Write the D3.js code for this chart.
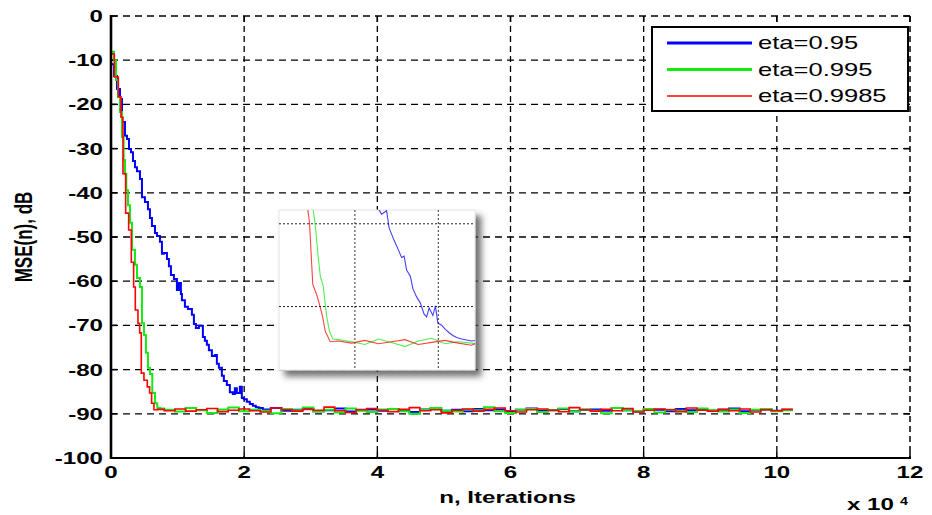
<!DOCTYPE html>
<html>
<head>
<meta charset="utf-8">
<script src="https://d3js.org/d3.v7.min.js"></script>
<style>
  body { margin: 0; background: #fff; }
  svg { display: block; }
  text { font-family: "Liberation Sans", Arial, sans-serif; fill: #000; }
</style>
</head>
<body>
<div id="chart"></div>
<script>
// axis ticks
var xTicks = [0, 2, 4, 6, 8, 10, 12];
var yTicks = [0, -10, -20, -30, -40, -50, -60, -70, -80, -90, -100];
var seriesNames = ["eta=0.95", "eta=0.995", "eta=0.9985"];
var seriesColors = ["#0000ff", "#14ea14", "#ff0000"];

// transient part of the learning curves: [n (x10^4), MSE dB]
var blueHead = [[0.0,-8.5],[0.045,-10.9],[0.09,-13.6],[0.135,-16.5],[0.165,-18.8],[0.21,-24],[0.24,-27.1],
  [0.27,-27.8],[0.30,-30.1],[0.33,-30.8],[0.36,-32.8],[0.39,-34.2],[0.435,-35.1],[0.465,-36.9],[0.51,-41],
  [0.555,-42.1],[0.585,-43.7],[0.615,-45.7],[0.66,-47.5],[0.69,-49.1],[0.735,-49.8],[0.765,-51.1],[0.795,-53.8],
  [0.84,-53.6],[0.87,-55],[0.90,-56.6],[0.945,-58.6],[0.99,-59.5],[1.02,-62],[1.05,-60.4],[1.065,-62.9],
  [1.11,-64.3],[1.155,-65.8],[1.215,-66.3],[1.245,-67.6],[1.275,-69.7],[1.32,-70.6],[1.38,-70.1],[1.41,-72.6],
  [1.44,-73.5],[1.47,-74.4],[1.515,-75.6],[1.56,-76.9],[1.59,-76.7],[1.62,-78.7],[1.665,-79.6],[1.695,-81.4],
  [1.74,-82.6],[1.785,-83.5],[1.83,-85.1],[1.86,-85.5],[1.89,-84.2],[1.935,-85.3],[1.965,-83.9],[1.995,-86.4],
  [2.04,-86.7],[2.085,-87.3],[2.13,-87.8],[2.175,-88.2],[2.22,-88.5],[2.28,-88.7]];
var greenHead = [[0.0,-6.6],[0.045,-8.1],[0.075,-10],[0.105,-14.5],[0.135,-18.3],[0.165,-21.7],[0.19,-27.4],
  [0.21,-32.6],[0.23,-35.7],[0.255,-39.4],[0.285,-42.8],[0.315,-46.8],[0.36,-52.9],[0.39,-56.3],[0.435,-59.3],
  [0.465,-61.3],[0.495,-69.5],[0.525,-72.2],[0.555,-76.2],[0.585,-79.6],[0.62,-81],[0.66,-85.3],[0.695,-87.6],
  [0.735,-88.7]];
var redHead = [[0.0,-5.9],[0.05,-8.6],[0.11,-13.8],[0.15,-18.3],[0.18,-22.9],[0.22,-35.7],[0.265,-44.6],
  [0.305,-48.4],[0.34,-55.7],[0.365,-61.3],[0.405,-66.5],[0.43,-69.5],[0.455,-71.7],[0.495,-80.8],[0.545,-82.4],
  [0.58,-83.9],[0.61,-85.3],[0.645,-87.6],[0.705,-89.1]];

// steady-state noise floor, read every 1600 iterations starting at n = 0.8e4
var floorStart = 0.8, floorStep = 0.16;
var redFloor = [-89.0,-89.3,-88.9,-89.4,-89.1,-88.8,-89.5,-89.2,-88.9,-89.3,
  -89.6,-88.7,-89.1,-89.4,-89.0,-89.2,-88.5,-89.3,-89.7,-89.1,
  -88.8,-89.2,-89.5,-89.0,-88.6,-89.3,-89.1,-89.8,-89.2,-88.9,
  -89.4,-89.0,-88.7,-89.3,-89.6,-89.1,-88.9,-89.2,-89.5,-88.6,
  -89.1,-89.4,-89.0,-89.3,-88.8,-89.6,-89.2,-88.9,-89.1,-89.5,
  -88.7,-89.2,-89.4,-89.0,-89.3,-88.9,-89.6,-89.1,-89.3,-89.0];
var greenFloor = [-88.8,-89.1,-89.5,-88.7,-89.2,-89.8,-89.0,-88.6,-89.4,-89.1,
  -89.3,-89.9,-88.9,-89.2,-88.6,-89.5,-89.1,-89.7,-88.8,-89.3,
  -89.6,-89.0,-88.9,-89.4,-90.0,-89.1,-88.7,-89.3,-89.5,-89.0,
  -89.2,-88.5,-89.4,-89.8,-89.1,-88.9,-89.6,-89.2,-88.8,-89.5,
  -89.0,-89.3,-89.9,-88.7,-89.2,-89.4,-88.9,-89.7,-89.1,-89.3,
  -89.6,-88.8,-89.2,-89.5,-89.0,-89.8,-89.1,-88.9,-89.4,-89.2];
// blue floor starts at the 11th sample (n = 2.4e4)
var blueFloor = [-89.0,-88.7,-89.3,-89.1,-88.9,-89.4,-89.2,-88.8,-89.5,-89.1,
  -89.0,-89.3,-88.9,-89.2,-89.6,-89.0,-88.8,-89.3,-89.1,-89.4,
  -88.9,-89.2,-89.0,-89.5,-89.1,-88.8,-89.3,-89.2,-88.9,-89.4,
  -89.1,-89.0,-89.3,-88.7,-89.2,-89.5,-89.0,-89.1,-89.4,-88.9,
  -89.2,-89.0,-89.3,-89.1,-88.8,-89.4,-89.2,-89.0,-89.3,-89.1];

// inset (zoom of the convergence region)
var insetXDomain = [0.09, 2.44];
var insetYDomain = [-93.2, -70];
var insetXGrid = [1, 2];
var insetYGrid = [-72, -84];

function withFloor(head, floor, offset) {
  return head.concat(floor.map(function(v, i) { return [floorStart + (i + offset) * floorStep, v]; }));
}
var series = [
  withFloor(blueHead, blueFloor, 10),
  withFloor(greenHead, greenFloor, 0),
  withFloor(redHead, redFloor, 0)
];
var lineWidths = [2, 2, 1.6];

var margin = {top: 16, right: 22, bottom: 57, left: 111},
    width = 932 - margin.left - margin.right,
    height = 515 - margin.top - margin.bottom;
var sx = 1.42; // the figure is stretched horizontally

var root = d3.select("#chart").append("svg")
    .attr("width", 932).attr("height", 515);
var defs = root.append("defs");
defs.append("clipPath").attr("id", "plotClip")
  .append("rect").attr("width", width).attr("height", height);
var shadow = defs.append("filter").attr("id", "shadow")
    .attr("x", "-10%").attr("y", "-10%").attr("width", "130%").attr("height", "130%");
shadow.append("feDropShadow").attr("dx", 6).attr("dy", 6).attr("stdDeviation", 3)
    .attr("flood-color", "#444").attr("flood-opacity", 0.75);

var svg = root.append("g")
    .attr("transform", "translate(" + margin.left + "," + margin.top + ")");

var x = d3.scaleLinear().domain([0, 12]).range([0, width]);
var y = d3.scaleLinear().domain([-100, 0]).range([height, 0]);

function label(parent, px, py, str, anchor, size, weight, rotate) {
  return parent.append("text")
    .attr("transform", "translate(" + px + "," + py + ") scale(" + sx + ",1)" + (rotate ? " rotate(-90)" : ""))
    .attr("text-anchor", anchor)
    .style("font-size", size + "px")
    .style("font-weight", weight)
    .text(str);
}

// grid
svg.append("g").selectAll("line").data(xTicks.slice(1, -1)).enter().append("line")
  .attr("x1", function(d) { return x(d); }).attr("x2", function(d) { return x(d); })
  .attr("y1", 0).attr("y2", height)
  .attr("stroke", "#000").attr("stroke-width", 1.3).attr("stroke-dasharray", "6,4");
svg.append("g").selectAll("line").data(yTicks.slice(1, -1)).enter().append("line")
  .attr("y1", function(d) { return y(d); }).attr("y2", function(d) { return y(d); })
  .attr("x1", 0).attr("x2", width)
  .attr("stroke", "#000").attr("stroke-width", 1.3).attr("stroke-dasharray", "7,5");

// frame: dashed top/right, solid left/bottom
svg.append("line").attr("x1", 0).attr("x2", width).attr("y1", 0).attr("y2", 0)
  .attr("stroke", "#000").attr("stroke-width", 1.5).attr("stroke-dasharray", "7,5");
svg.append("line").attr("x1", width).attr("x2", width).attr("y1", 0).attr("y2", height)
  .attr("stroke", "#000").attr("stroke-width", 1.5).attr("stroke-dasharray", "6,4");

// inward tick marks
var tk = svg.append("g").attr("stroke", "#000").attr("stroke-width", 1.5);
yTicks.forEach(function(d) {
  tk.append("line").attr("x1", 0).attr("x2", 6).attr("y1", y(d)).attr("y2", y(d));
  tk.append("line").attr("x1", width - 6).attr("x2", width).attr("y1", y(d)).attr("y2", y(d));
});
xTicks.forEach(function(d) {
  tk.append("line").attr("y1", height).attr("y2", height - 6).attr("x1", x(d)).attr("x2", x(d));
  tk.append("line").attr("y1", 0).attr("y2", 6).attr("x1", x(d)).attr("x2", x(d));
});

// curves
var line = d3.line()
  .curve(d3.curveStepBefore)
  .x(function(d) { return x(d[0]); })
  .y(function(d) { return y(d[1]); });
var curves = svg.append("g").attr("clip-path", "url(#plotClip)");
series.forEach(function(s, i) {
  curves.append("path").datum(s)
    .attr("fill", "none")
    .attr("stroke", seriesColors[i])
    .attr("stroke-width", lineWidths[i])
    .attr("d", line);
});

// axis lines
svg.append("line").attr("x1", 0).attr("x2", 0).attr("y1", -1).attr("y2", height + 1)
  .attr("stroke", "#000").attr("stroke-width", 2.6);
svg.append("line").attr("x1", -1).attr("x2", width + 1).attr("y1", height).attr("y2", height)
  .attr("stroke", "#000").attr("stroke-width", 2.2);

// tick labels
yTicks.forEach(function(d) {
  label(svg, -8, y(d) + 6, d, "end", 17, "bold");
});
xTicks.forEach(function(d) {
  label(svg, x(d), height + 20, d, "middle", 17, "bold");
});

// axis titles
label(svg, width / 2 - 3, height + 45, "n, Iterations", "middle", 17, "bold");
label(svg, -79, 221, "MSE(n), dB", "middle", 17, "bold", true);
label(svg, 736, height + 52, "x 10", "start", 17, "bold");
label(svg, 789, height + 47, "4", "start", 10, "bold");

// inset
var ix = d3.scaleLinear().domain(insetXDomain).range([168, 364]);
var iy = d3.scaleLinear().domain(insetYDomain).range([354, 194]);
var inset = svg.append("g");
defs.append("clipPath").attr("id", "insetClip")
  .append("rect").attr("x", 168).attr("y", 194).attr("width", 196).attr("height", 160);
inset.append("rect").attr("x", 168).attr("y", 194).attr("width", 196).attr("height", 160)
  .attr("fill", "#fff").attr("stroke", "#e4e4e4").attr("filter", "url(#shadow)");
inset.append("g").selectAll("line").data(insetXGrid).enter().append("line")
  .attr("x1", function(d) { return ix(d); }).attr("x2", function(d) { return ix(d); })
  .attr("y1", 194).attr("y2", 354)
  .attr("stroke", "#333").attr("stroke-width", 1).attr("stroke-dasharray", "2,2");
inset.append("g").selectAll("line").data(insetYGrid).enter().append("line")
  .attr("y1", function(d) { return iy(d); }).attr("y2", function(d) { return iy(d); })
  .attr("x1", 168).attr("x2", 364)
  .attr("stroke", "#222").attr("stroke-width", 1).attr("stroke-dasharray", "2,2");
var insetLine = d3.line()
  .x(function(d) { return ix(d[0]); })
  .y(function(d) { return iy(d[1]); });
var insetCurves = inset.append("g").attr("clip-path", "url(#insetClip)");
series.forEach(function(s, i) {
  insetCurves.append("path").datum(s)
    .attr("fill", "none")
    .attr("stroke", seriesColors[i])
    .attr("stroke-opacity", 0.75)
    .attr("stroke-width", 1.1)
    .attr("d", insetLine);
});

// legend
var legend = svg.append("g").attr("transform", "translate(541,11)");
legend.append("rect").attr("width", 256).attr("height", 84)
  .attr("fill", "#fff").attr("stroke", "#000").attr("stroke-width", 2);
seriesNames.forEach(function(name, i) {
  var ly = 16 + i * 26.5;
  legend.append("line").attr("x1", 15).attr("x2", 100).attr("y1", ly).attr("y2", ly)
    .attr("stroke", seriesColors[i]).attr("stroke-width", i === 2 ? 1.4 : 3);
  label(legend, 106, ly + 6, name, "start", 18, "normal");
});
</script>
</body>
</html>
